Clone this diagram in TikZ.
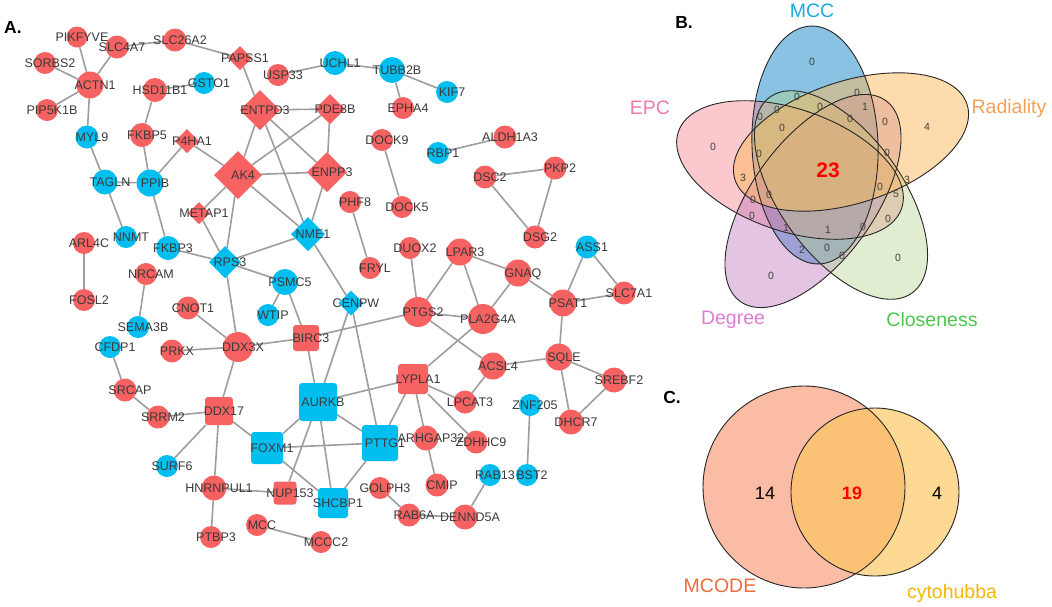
\documentclass[tikz,border=0pt]{standalone}
\usepackage{fontspec}
\setmainfont{Liberation Sans}
\usetikzlibrary{shapes.geometric,backgrounds}
\definecolor{nred}{RGB}{246,98,98}
\definecolor{ncyan}{RGB}{0,191,240}
\definecolor{edgec}{RGB}{158,158,158}
\definecolor{labc}{RGB}{58,58,58}
\definecolor{vmcc}{RGB}{20,135,200}
\definecolor{vepc}{RGB}{245,125,138}
\definecolor{vrad}{RGB}{252,185,90}
\definecolor{vdeg}{RGB}{185,110,185}
\definecolor{vclo}{RGB}{180,212,140}
\definecolor{tmcc}{RGB}{25,170,225}
\definecolor{tepc}{RGB}{240,122,172}
\definecolor{trad}{RGB}{245,160,90}
\definecolor{tdeg}{RGB}{222,125,212}
\definecolor{tclo}{RGB}{75,200,75}
\definecolor{cmcode}{RGB}{250,188,165}
\definecolor{ccyto}{RGB}{252,198,92}
\definecolor{tmcode}{RGB}{242,107,58}
\definecolor{tcyto}{RGB}{245,184,0}
\newcommand{\GL}[1]{\makebox[0pt]{\hspace{10pt}#1}}
\newcommand{\gnode}[4]{\node[#1,minimum size=#4] (#2) at (#3) {\GL{#2}};}
\begin{document}
\begin{tikzpicture}[x=1pt,y=-1pt,
  gl/.style={inner sep=0pt, outer sep=0pt, font=\fontsize{12.5}{14}\selectfont, text=labc, text height=9pt, text depth=0pt},
  rc/.style={gl, circle, fill=nred},
  cc/.style={gl, circle, fill=ncyan},
  rd/.style={gl, diamond, fill=nred},
  cd/.style={gl, diamond, fill=ncyan},
  rs/.style={gl, rectangle, rounded corners=3pt, fill=nred},
  cs/.style={gl, rectangle, rounded corners=3pt, fill=ncyan},
  edge/.style={draw=edgec, line width=1.6pt},
  panel/.style={font=\fontsize{17.5}{20}\selectfont\bfseries, text=black, inner sep=0pt},
  vlab/.style={font=\fontsize{19.5}{22}\selectfont, inner sep=0pt},
  vnum/.style={font=\fontsize{10.5}{12}\selectfont, text=black!75, inner sep=0pt},
  vout/.style={draw=black!85, line width=0.9pt}
]
\useasboundingbox (0,0) rectangle (1052,606);
\begin{pgfonlayer}{background}
\fill[white] (0,0) rectangle (1052,606);
\end{pgfonlayer}

\node[panel] (pA) at (13,27) {A.};
\node[panel] (pB) at (684,22) {B.};
\node[panel] (pC) at (672,397) {C.};

% red circles
\gnode{rc}{PIKFYVE}{77,37}{21}
\gnode{rc}{SLC4A7}{117,47}{23}
\gnode{rc}{SLC26A2}{175,40}{23}
\gnode{rc}{SORBS2}{45,63}{22}
\gnode{rc}{ACTN1}{90,85}{27}
\gnode{rc}{HSD11B1}{155,90}{24}
\gnode{rc}{PIP5K1B}{47,110}{22}
\gnode{rc}{FKBP5}{142,135}{24}
\gnode{rc}{USP33}{278,75}{22}
\gnode{rc}{EPHA4}{403,108}{22}
\gnode{rc}{DOCK9}{382,140}{22}
\gnode{rc}{PHF8}{350,202}{22}
\gnode{rc}{DOCK5}{402,207}{22}
\gnode{rc}{FRYL}{370,268}{22}
\gnode{rc}{DUOX2}{410,248}{22}
\gnode{rc}{LPAR3}{460,252}{27}
\gnode{rc}{ALDH1A3}{505,137}{23}
\gnode{rc}{DSC2}{485,177}{23}
\gnode{rc}{PKP2}{555,168}{23}
\gnode{rc}{DSG2}{535,237}{23}
\gnode{rc}{GNAQ}{518,273}{27}
\gnode{rc}{PSAT1}{563,303}{27}
\gnode{rc}{SLC7A1}{624,293}{23}
\gnode{rc}{PTGS2}{418,312}{30}
\gnode{rc}{PLA2G4A}{483,319}{30}
\gnode{rc}{ACSL4}{493,366}{27}
\gnode{rc}{SQLE}{559,357}{27}
\gnode{rc}{SREBF2}{614,380}{25}
\gnode{rc}{DHCR7}{571,422}{25}
\gnode{rc}{LPCAT3}{465,402}{23}
\gnode{rc}{ARHGAP32}{426,438}{25}
\gnode{rc}{ZDHHC9}{476,442}{23}
\gnode{rc}{CMIP}{437,485}{23}
\gnode{rc}{GOLPH3}{380,488}{22}
\gnode{rc}{RAB6A}{409,515}{23}
\gnode{rc}{DENND5A}{465,517}{25}
\gnode{rc}{MCC}{257,525}{22}
\gnode{rc}{MCCC2}{321,542}{22}
\gnode{rc}{HNRNPUL1}{214,488}{25}
\gnode{rc}{PTBP3}{211,537}{22}
\gnode{rc}{SRCAP}{125,390}{23}
\gnode{rc}{SRRM2}{158,417}{23}
\gnode{rc}{DDX3X}{238,347}{30}
\gnode{rc}{PRKX}{172,351}{23}
\gnode{rc}{CNOT1}{188,308}{23}
\gnode{rc}{NRCAM}{146,274}{22}
\gnode{rc}{ARL4C}{84,243}{22}
\gnode{rc}{FOSL2}{84,300}{22}
% cyan circles
\gnode{cc}{GSTO1}{204,83}{22}
\gnode{cc}{MYL9}{87,137}{23}
\gnode{cc}{TAGLN}{105,182}{25}
\gnode{cc}{PPIB}{150,183}{27}
\gnode{cc}{UCHL1}{335,63}{24}
\gnode{cc}{TUBB2B}{392,70}{26}
\gnode{cc}{KIF7}{447,92}{22}
\gnode{cc}{RBP1}{438,153}{22}
\gnode{cc}{NNMT}{126,237}{22}
\gnode{cc}{FKBP3}{168,248}{24}
\gnode{cc}{PSMC5}{285,282}{26}
\gnode{cc}{WTIP}{268,315}{22}
\gnode{cc}{SEMA3B}{138,327}{22}
\gnode{cc}{CFDP1}{110,347}{22}
\gnode{cc}{SURF6}{167,466}{22}
\gnode{cc}{ASS1}{587,247}{23}
\gnode{cc}{ZNF205}{530,405}{22}
\gnode{cc}{BST2}{527,475}{22}
\gnode{cc}{RAB13}{490,475}{22}
% diamonds
\gnode{rd}{AK4}{238,175}{48}
\gnode{rd}{ENTPD3}{260,110}{40}
\gnode{rd}{PDE8B}{330,109}{30}
\gnode{rd}{ENPP3}{327,172}{40}
\gnode{rd}{P4HA1}{187,141}{24}
\gnode{rd}{PAPSS1}{240,58}{24}
\gnode{rd}{METAP1}{199,213}{22}
\gnode{cd}{NME1}{308,234}{34}
\gnode{cd}{RPS3}{225,262}{32}
\gnode{cd}{CENPW}{351,303}{25}
% squares
\gnode{rs}{BIRC3}{306,338}{26}
\gnode{rs}{LYPLA1}{413,379}{30}
\gnode{rs}{DDX17}{219,411}{28}
\gnode{rs}{NUP153}{285,493}{23}
\gnode{cs}{AURKB}{318,402}{38}
\gnode{cs}{FOXM1}{267,448}{32}
\gnode{cs}{PTTG1}{380,443}{36}
\gnode{cs}{SHCBP1}{333,503}{30}

\begin{pgfonlayer}{background}
\draw[edge] (PIKFYVE)--(ACTN1) (SLC4A7)--(ACTN1) (SORBS2)--(ACTN1) (PIP5K1B)--(ACTN1)
 (ACTN1)--(MYL9) (SLC4A7)--(SLC26A2) (SLC26A2)--(PAPSS1) (PAPSS1)--(ENTPD3)
 (HSD11B1)--(GSTO1) (HSD11B1)--(FKBP5) (FKBP5)--(PPIB) (MYL9)--(TAGLN) (TAGLN)--(PPIB)
 (PPIB)--(P4HA1) (P4HA1)--(AK4) (USP33)--(UCHL1) (UCHL1)--(TUBB2B) (TUBB2B)--(KIF7)
 (TUBB2B)--(EPHA4) (ENTPD3)--(PDE8B) (ENTPD3)--(AK4) (ENTPD3)--(ENPP3) (ENTPD3)--(NME1)
 (PDE8B)--(AK4) (PDE8B)--(ENPP3) (AK4)--(ENPP3) (AK4)--(METAP1) (AK4)--(RPS3) (AK4)--(NME1)
 (ENPP3)--(NME1) (DOCK9)--(DOCK5) (RBP1)--(ALDH1A3) (DSC2)--(PKP2) (DSC2)--(DSG2) (PKP2)--(DSG2)
 (TAGLN)--(NNMT) (PPIB)--(FKBP3) (FKBP3)--(RPS3) (METAP1)--(RPS3) (RPS3)--(NME1) (RPS3)--(PSMC5)
 (RPS3)--(DDX3X) (ARL4C)--(FOSL2) (NRCAM)--(SEMA3B) (CNOT1)--(DDX3X) (PRKX)--(DDX3X)
 (DDX3X)--(BIRC3) (PSMC5)--(WTIP) (PSMC5)--(BIRC3) (NME1)--(CENPW) (CENPW)--(AURKB)
 (CENPW)--(PTTG1) (BIRC3)--(AURKB) (BIRC3)--(PTGS2) (PHF8)--(FRYL) (DUOX2)--(PTGS2)
 (LPAR3)--(PTGS2) (LPAR3)--(PLA2G4A) (LPAR3)--(GNAQ) (PTGS2)--(PLA2G4A) (PTGS2)--(ACSL4)
 (PLA2G4A)--(LYPLA1) (GNAQ)--(PLA2G4A) (GNAQ)--(PSAT1) (ASS1)--(PSAT1) (ASS1)--(SLC7A1)
 (PSAT1)--(SLC7A1) (PSAT1)--(SQLE) (SQLE)--(ACSL4) (SQLE)--(SREBF2) (SQLE)--(DHCR7)
 (SREBF2)--(DHCR7) (ACSL4)--(LPCAT3) (ZNF205)--(BST2) (LYPLA1)--(AURKB) (LYPLA1)--(PTTG1)
 (LYPLA1)--(ARHGAP32) (LYPLA1)--(LPCAT3) (LYPLA1)--(ZDHHC9) (ARHGAP32)--(CMIP)
 (AURKB)--(FOXM1) (AURKB)--(PTTG1) (AURKB)--(SHCBP1) (AURKB)--(NUP153) (FOXM1)--(PTTG1)
 (FOXM1)--(SHCBP1) (FOXM1)--(DDX17) (PTTG1)--(SHCBP1) (HNRNPUL1)--(NUP153) (GOLPH3)--(RAB6A)
 (RAB6A)--(DENND5A) (DENND5A)--(RAB13) (MCC)--(MCCC2) (SRCAP)--(SRRM2) (SRCAP)--(CFDP1)
 (SRRM2)--(DDX17) (DDX17)--(SURF6) (DDX17)--(HNRNPUL1) (DDX17)--(DDX3X) (HNRNPUL1)--(PTBP3);
\end{pgfonlayer}

% Venn B
\fill[vmcc,fill opacity=0.5,rotate around={-88:(815,145)}] (815,145) ellipse [x radius=119, y radius=63];
\fill[vepc,fill opacity=0.42,rotate around={-19:(790,170)}] (790,170) ellipse [x radius=118, y radius=61];
\fill[vdeg,fill opacity=0.4,rotate around={54:(813,201)}] (813,201) ellipse [x radius=124, y radius=61];
\fill[vclo,fill opacity=0.4,rotate around={-54:(841,195)}] (841,195) ellipse [x radius=121, y radius=61];
\fill[vrad,fill opacity=0.5,rotate around={18:(851,142)}] (851,142) ellipse [x radius=122, y radius=61];
\draw[vout,rotate around={-88:(815,145)}] (815,145) ellipse [x radius=119, y radius=63];
\draw[vout,rotate around={18:(851,142)}] (851,142) ellipse [x radius=122, y radius=61];
\draw[vout,rotate around={-54:(841,195)}] (841,195) ellipse [x radius=121, y radius=61];
\draw[vout,rotate around={54:(813,201)}] (813,201) ellipse [x radius=124, y radius=61];
\draw[vout,rotate around={-19:(790,170)}] (790,170) ellipse [x radius=118, y radius=61];

\node[vlab,text=tmcc] (lMCC) at (812,11) {MCC};
\node[vlab,text=tepc] (lEPC) at (650,108) {EPC};
\node[vlab,text=trad] (lRad) at (1009,108) {Radiality};
\node[vlab,text=tdeg] (lDeg) at (733,320) {Degree};
\node[vlab,text=tclo] (lClo) at (932,320) {Closeness};

\foreach \px/\py/\t [count=\i] in {812/62/0, 797/97/0, 857/93/0, 820/107/0, 865/107/1, 760/117/0,
  777/110/0, 782/128/0, 850/119/0, 885/122/0, 927/127/4, 713/147/0, 759/154/0, 887/153/0,
  743/178/3, 880/187/0, 907/180/3, 896/194/5, 753/200/0, 769/195/0, 752/216/0, 786/228/1,
  828/230/1, 863/227/0, 888/219/0, 802/250/2, 827/248/0, 842/256/0, 898/258/0, 771/276/0}
  \node[vnum] (n\i) at (\px,\py) {\t};
\node[font=\fontsize{21}{24}\selectfont\bfseries, text=red, inner sep=0pt] (n23) at (828,170) {23};

% Venn C
\fill[cmcode] (804,487) circle [radius=101];
\fill[ccyto, fill opacity=0.65] (875,492) circle [radius=84];
\draw[vout] (804,487) circle [radius=101];
\draw[vout] (875,492) circle [radius=84];
\node[font=\fontsize{18}{20}\selectfont, inner sep=0pt] (c14) at (765,493) {14};
\node[font=\fontsize{18}{20}\selectfont\bfseries, text=red, inner sep=0pt] (c19) at (852,493) {19};
\node[font=\fontsize{18}{20}\selectfont, inner sep=0pt] (c4) at (937,493) {4};
\node[vlab,text=tmcode] (lMCODE) at (720,586) {MCODE};
\node[vlab,text=tcyto] (lCyto) at (952,593) {cytohubba};
\end{tikzpicture}
\end{document}
